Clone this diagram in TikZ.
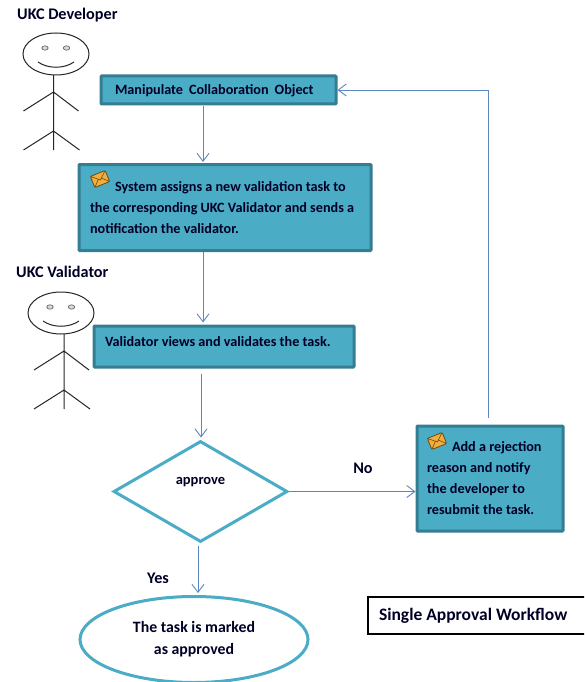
\documentclass[tikz,border=0pt]{standalone}
\usepackage{fontspec}
\setmainfont{Carlito}
\usetikzlibrary{arrows.meta,shapes.geometric}
\definecolor{boxfill}{HTML}{4BACC6}
\definecolor{boxline}{HTML}{357D91}
\definecolor{arrowblue}{HTML}{5B87BE}
\definecolor{mailfill}{HTML}{F2AE3D}
\definecolor{mailedge}{HTML}{6B4A14}
\tikzset{
  x=1pt,y=-1pt,
  txt/.style={font=\fontsize{14.2}{21}\selectfont\bfseries,text=black!85!blue},
  taskbox/.style={txt,draw=boxline,fill=boxfill,line width=3pt,rounded corners=0.8pt,align=flush left,inner ysep=0pt},
  lbl/.style={font=\fontsize{16.2}{20}\selectfont\bfseries,text=black!85!blue,inner sep=0pt},
  flow/.style={draw=arrowblue,line width=0.9pt,-{Straight Barb[length=8pt,width=12pt,line width=0.9pt]}},
  stick/.style={draw=black!85,line width=1pt},
  mailicon/.pic={
    \begin{scope}[rotate=22]
      \draw[draw=mailedge,fill=mailfill,line width=0.8pt,rounded corners=1.5pt] (-8,-6) rectangle (8,6);
      \draw[draw=mailedge,line width=0.6pt] (-8,-6) -- (0,1) -- (8,-6) (-8,6) -- (-2,0) (8,6) -- (2,0);
    \end{scope}
  },
  pics/actor/.style={code={
    \draw[stick] (0,-21) ellipse [x radius=33,y radius=21];
    \draw[draw=black!60,fill=black!15,line width=0.7pt] (-11,-27) ellipse [x radius=3.2,y radius=2.2] (10.5,-27) ellipse [x radius=3.2,y radius=2.2];
    \draw[stick] (-18,-13) .. controls (-8,-6) and (8,-6) .. (18,-13);
    \draw[stick] (#1,0) -- (#1,75) (#1,17) -- (#1-30,36) (#1,17) -- (#1+25,36) (#1,56) -- (#1-30,75) (#1,56) -- (#1+26,75);
  }}
}
\begin{document}
\begin{tikzpicture}
\clip (0,0) rectangle (584,682);
\fill[white] (0,0) rectangle (584,682);

\node[lbl,anchor=west] (devlabel) at (17,15) {UKC Developer};
\node[lbl,anchor=west] (vallabel) at (16,272) {UKC Validator};
\pic at (56,75) {actor=-2.5};
\pic at (61,334) {actor=3};

\node[taskbox,minimum width=235pt,minimum height=28pt,inner xsep=14pt,text width=207pt,text height=13pt,text depth=3pt] (manip) at (218.5,90) {Manipulate\hspace{6pt}Collaboration\hspace{6pt}Object};
\node[taskbox,minimum width=292pt,minimum height=86pt,inner xsep=11pt,text width=270pt] (assign) at (225,207.5) {\hspace*{25pt}System assigns a new validation task to\\the corresponding UKC Validator and sends a\\notification the validator.};
\node[taskbox,minimum width=260pt,minimum height=41pt,inner xsep=11pt,text width=238pt,text height=9pt,text depth=10pt] (views) at (224,346.5) {Validator views and validates the task.};
\node[taskbox,minimum width=146pt,minimum height=105pt,inner xsep=10pt,text width=126pt] (reject) at (490,478.5) {\hspace*{25pt}Add a rejection\\reason and notify\\the developer to\\resubmit the task.};
\pic at (100,179) {mailicon};
\pic at (437,441) {mailicon};

\node[diamond,draw=boxfill,line width=3pt,aspect=1.73,minimum width=174pt,minimum height=101pt,inner sep=0pt,font=\fontsize{14.5}{15}\selectfont\bfseries,text=black!85!blue,text height=9pt,text depth=24pt] (approve) at (200.5,491.5) {approve};
\node[ellipse,draw=boxfill,line width=3pt,minimum width=228pt,minimum height=86pt,inner sep=0pt,txt,align=center,font=\fontsize{15.8}{22}\selectfont\bfseries] (done) at (194,639.5) {The task is marked\\as approved};
\node[draw=black,line width=2pt,minimum width=218pt,minimum height=37pt,inner xsep=11pt,text width=196pt,txt,align=flush left,font=\fontsize{17.5}{19}\selectfont\bfseries] (title) at (477,615.5) {Single Approval Workflow};

\node[lbl] (no) at (363,468) {No};
\node[lbl] (yes) at (158,578) {Yes};

\draw[flow] ([xshift=-15.5pt,yshift=-1pt]manip.south) -- ([xshift=-22pt,yshift=1pt]assign.north);
\draw[flow] ([xshift=-22pt]assign.south) -- ([xshift=-21pt,yshift=2pt]views.north);
\draw[flow] ([xshift=-23pt,yshift=-5pt]views.south) -- ([xshift=0.5pt,yshift=2pt]approve.north);
\draw[flow] (approve.east) -- (approve.east -| reject.west);
\draw[flow] ([xshift=-2.5pt,yshift=-2pt]approve.south) -- ([xshift=4pt,yshift=2pt]done.north);
\draw[flow] ([xshift=-2pt,yshift=7pt]reject.north) |- (manip.east);
\end{tikzpicture}
\end{document}
